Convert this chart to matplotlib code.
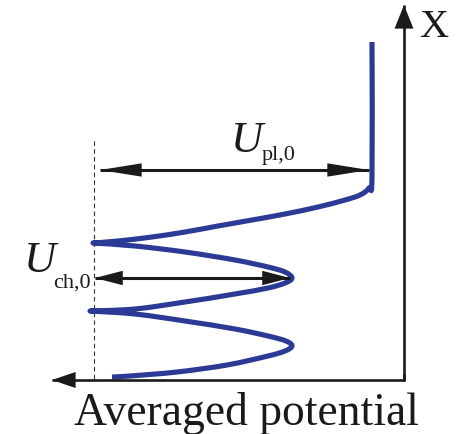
import matplotlib
matplotlib.use("Agg")
import numpy as np
import matplotlib.pyplot as plt
from matplotlib.patches import FancyArrowPatch, PathPatch
from matplotlib.path import Path

# ---- data (pixel-like units: potential -> x, position -> y) ----
# plasma region + top sheath
pot_top = [372, 372, 369, 360, 345, 318, 285, 252, 218, 185, 152, 118, 93]
pos_top = [43, 178, 189, 196, 201, 208, 215, 221, 227, 233, 238, 242, 244]
# first channel lobe
pot_lobe1 = [93, 135, 185, 235, 268, 285, 292, 285, 268, 235, 185, 135, 90]
pos_lobe1 = [244, 247, 253, 261, 268, 273, 279, 284, 289, 295, 303, 310, 312]
# second channel lobe
pot_lobe2 = [90, 135, 185, 235, 268, 286, 292, 285, 268, 227, 177, 130, 112]
pos_lobe2 = [312, 315, 322, 330, 337, 342, 347, 352, 357, 366, 373, 377, 378]

axis_origin = (404, 381)
x_axis_end = 52
y_axis_end = 6
ref_x = 93.5
ref_top = 142
u_pl = (100, 369, 171)   # x start, x end, y
u_ch = (95, 290, 279)

blue = '#2B3A95'
ink = '#1a1a1a'
serif = ['Liberation Serif', 'DejaVu Serif']

fig = plt.figure(figsize=(4.66, 4.35), dpi=100)
ax = fig.add_axes([0, 0, 1, 1])
ax.set_xlim(0, 466)
ax.set_ylim(435, 0)
ax.axis('off')

# reference dashed line
ax.plot([ref_x, ref_x], [ref_top, axis_origin[1]], color='#333333', lw=0.8,
        dashes=(4, 3), zorder=1)


# curve: smooth (Catmull-Rom as cubic Bezier) through the read points, cusps kept
def smooth_path(pieces):
    verts, codes = [], []
    for k, (xs, ys) in enumerate(pieces):
        P = np.column_stack([xs, ys]).astype(float)
        n = len(P)
        if k == 0:
            verts.append(P[0]); codes.append(Path.MOVETO)
        for i in range(n - 1):
            p_prev = P[i - 1] if i > 0 else P[i]
            p_next2 = P[i + 2] if i + 2 < n else P[i + 1]
            c1 = P[i] + (P[i + 1] - p_prev) / 6.0
            c2 = P[i + 1] - (p_next2 - P[i]) / 6.0
            verts += [c1, c2, P[i + 1]]
            codes += [Path.CURVE4] * 3
    return Path(np.array(verts), codes)


path = smooth_path([(pot_top, pos_top), (pot_lobe1, pos_lobe1), (pot_lobe2, pos_lobe2)])
ax.add_patch(PathPatch(path, facecolor='none', edgecolor=blue, lw=3.7,
                       joinstyle='round', capstyle='butt', zorder=3))


# arrows: shaft as a line, heads as filled patches
def arrow(p0, p1, style, lw, both=False):
    ax.plot([p0[0], p1[0]], [p0[1], p1[1]], color=ink, lw=lw,
            solid_capstyle='butt', zorder=4)
    a = FancyArrowPatch(p0, p1, arrowstyle=style, mutation_scale=1, lw=0,
                        color=ink, shrinkA=0, shrinkB=0, zorder=4)
    ax.add_patch(a)


arrow(axis_origin, (x_axis_end, axis_origin[1]), '-|>,head_length=17,head_width=5.8', 1.9)
arrow(axis_origin, (axis_origin[0], y_axis_end), '-|>,head_length=17,head_width=6.8', 1.9)
ax.plot([axis_origin[0], axis_origin[0]], [axis_origin[1], axis_origin[1] - 5],
        color=ink, lw=1.9, solid_capstyle='projecting', zorder=4)

arrow((u_pl[0], u_pl[2]), (u_pl[1], u_pl[2]), '<|-|>,head_length=30,head_width=4.8', 2.2)
arrow((u_ch[0], u_ch[2]), (u_ch[1], u_ch[2]), '<|-|>,head_length=20,head_width=5.2', 2.2)

# texts
ax.text(419, 37, 'X', family=serif, fontsize=29, color=ink, ha='left', va='baseline')
ax.text(246, 425, 'Averaged potential', family=serif, fontsize=32.8, color=ink,
        ha='center', va='baseline')
ax.text(231, 152, 'U', family=serif, style='italic', fontsize=32, color=ink,
        ha='left', va='baseline')
ax.text(262, 160, 'pl,0', family=serif, fontsize=16, color=ink, ha='left',
        va='baseline')
ax.text(24, 272, 'U', family=serif, style='italic', fontsize=32, color=ink,
        ha='left', va='baseline')
ax.text(53, 288, 'ch,0', family=serif, fontsize=16, color=ink, ha='left',
        va='baseline')

fig.savefig('out.png', dpi=100, facecolor='white')
